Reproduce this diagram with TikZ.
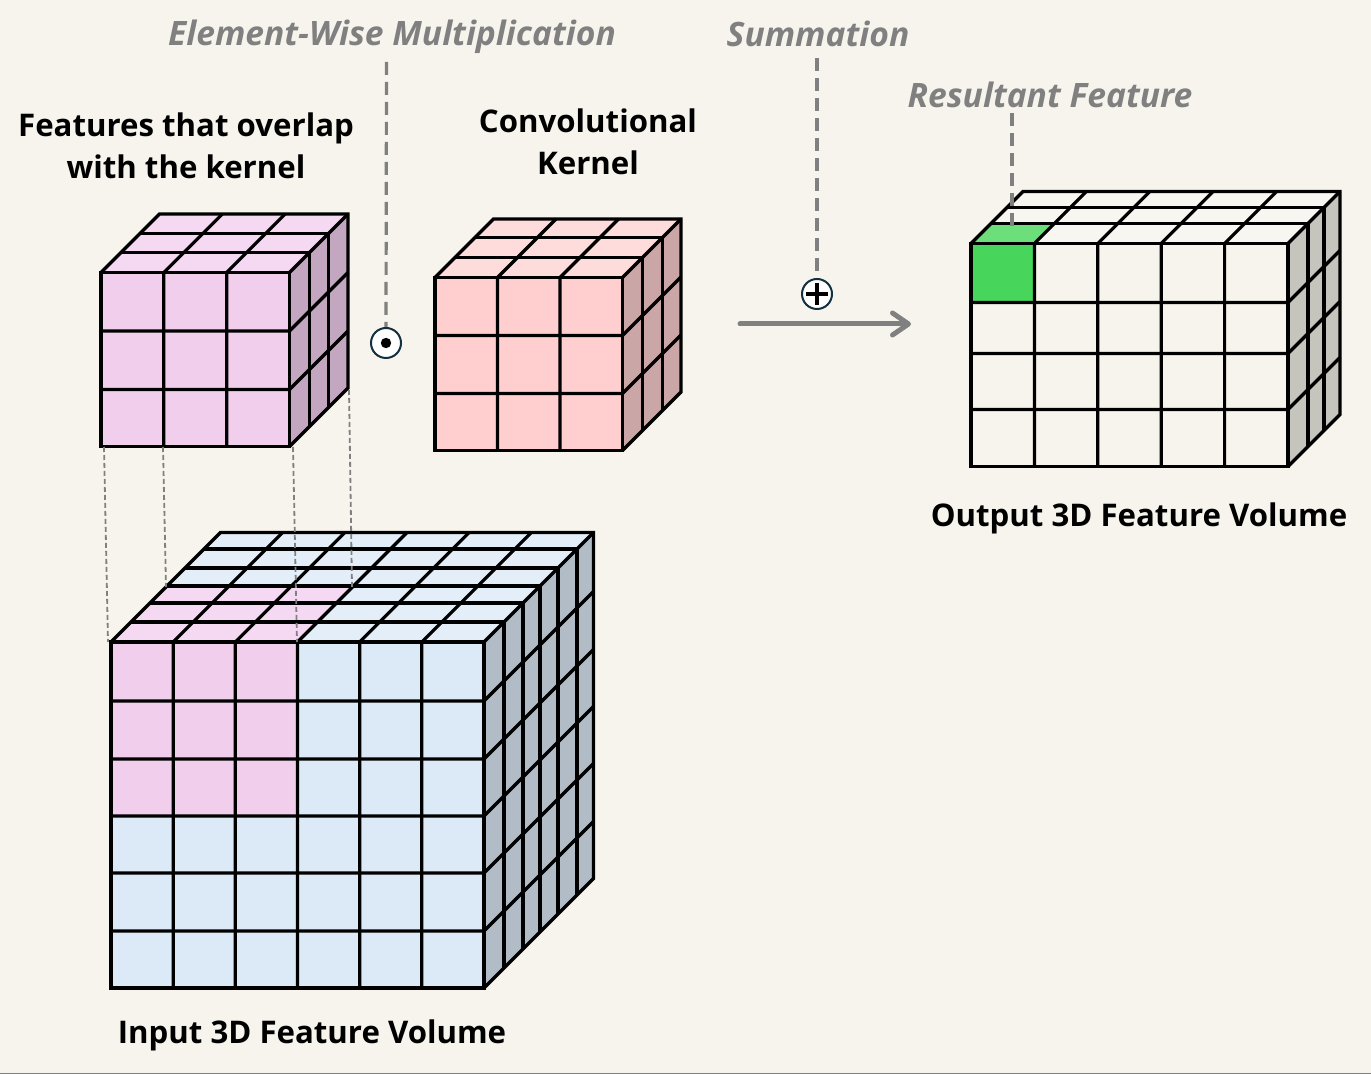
\documentclass[tikz,border=0pt]{standalone}
\usepackage{fontspec}
\setmainfont{Open Sans}
\usetikzlibrary{arrows.meta, positioning}
\definecolor{paper}{HTML}{F6F4EC}
\definecolor{guidegray}{HTML}{808080}
\definecolor{symbolring}{HTML}{12303F}
\definecolor{pinkfront}{HTML}{F1CEEC}
\definecolor{pinktop}{HTML}{F5D9F2}
\definecolor{pinkside}{HTML}{C3A6C0}
\definecolor{kernelfront}{HTML}{FFCFD0}
\definecolor{kerneltop}{HTML}{FFDCDC}
\definecolor{kernelside}{HTML}{CBA6A6}
\definecolor{inputfront}{HTML}{DCE9F6}
\definecolor{inputtop}{HTML}{E4EEF8}
\definecolor{inputside}{HTML}{B1BCC7}
\definecolor{outputfront}{HTML}{F6F4EC}
\definecolor{outputtop}{HTML}{F8F6F0}
\definecolor{outputside}{HTML}{C6C5BD}
\definecolor{greenfront}{HTML}{47D65B}
\definecolor{greentop}{HTML}{6CDE7A}
% #1 x0, #2 x1, #3 y0, #4 y1, #5 depth, #6 colour prefix
\newcommand{\cubefaces}[6]{
  \fill[#6front] (#1,#3) rectangle (#2,#4);
  \fill[#6top] (#1,#3) -- (#2,#3) -- ++(#5,-#5) -- ++(#1-#2,0) -- cycle;
  \fill[#6side] (#2,#3) -- ++(#5,-#5) -- ++(0,#4-#3) -- (#2,#4) -- cycle;
}
% #1 x0, #2 x1, #3 y0, #4 y1, #5 depth, #6 columns, #7 inner rows, #8 inner depths
\newcommand{\cubegrid}[8]{
  \pgfmathtruncatemacro{\lastcol}{#6-1}
  \foreach \c in {1,...,\lastcol}{
    \pgfmathsetmacro{\cx}{#1+\c*(#2-#1)/#6}
    \draw[gridline] (\cx,#4) -- (\cx,#3) -- ++(#5,-#5);
  }
  \foreach \ry in {#7}
    \draw[gridline] (#1,\ry) -- (#2,\ry) -- ++(#5,-#5);
  \foreach \d in {#8}
    \draw[gridline] (#1+\d,#3-\d) -- (#2+\d,#3-\d) -- (#2+\d,#4-\d);
  \draw[gridline] (#1,#3) rectangle (#2,#4);
  \draw[gridline] (#1,#3) -- ++(#5,-#5) -- (#2+#5,#3-#5) -- (#2+#5,#4-#5) -- (#2,#4);
  \draw[gridline] (#2,#3) -- ++(#5,-#5);
}
\begin{document}
\begin{tikzpicture}[x=0.5pt, y=-0.5pt,
    gridline/.style={black, line width=1.6pt},
    guide/.style={guidegray, line width=1.6pt, dash pattern=on 6.5pt off 3.5pt},
    overlapguide/.style={guidegray, line width=0.9pt, dash pattern=on 2.5pt off 1.5pt},
    headtext/.style={font=\fontsize{15.6}{21}\selectfont\bfseries, align=center, inner sep=0pt},
    notetext/.style={font=\fontsize{16.8}{21}\selectfont\bfseries\itshape, text=guidegray, inner sep=0pt},
    opsymbol/.style={circle, draw=symbolring, fill=white, line width=1pt, minimum size=15pt, inner sep=0pt}]
\useasboundingbox (0,0) rectangle (1371,1074);
\fill[paper] (0,0) rectangle (1371,1074);
\draw[guidegray, line width=0.5pt] (0,1073.5) -- (1371,1073.5);

% overlap cube, kernel, input volume
\cubefaces{101}{289.5}{272.5}{446.5}{58.5}{pink}
\cubegrid{101}{289.5}{272.5}{446.5}{58.5}{3}{331,389.5}{20,39}
\cubefaces{435}{622.5}{277.5}{450.5}{58.5}{kernel}
\cubegrid{435}{622.5}{277.5}{450.5}{58.5}{3}{335.5,393.5}{20,40}
\cubefaces{111}{484}{642}{988}{109.5}{input}
\fill[pinkfront] (111,642) rectangle (297,816);
\fill[pinktop] (111,642) -- (297,642) -- (353,586) -- (167,586) -- cycle;
\cubegrid{111}{484}{642}{988}{109.5}{6}{701,759,816,873,931}{20,39,56,74,93}

% output volume
\cubefaces{971}{1288}{243.5}{466.5}{52}{output}
\fill[greenfront] (971,243.5) rectangle (1034,302.5);
\fill[greentop] (971,243.5) -- (1034,243.5) -- (1054,223.5) -- (991,223.5) -- cycle;
\cubegrid{971}{1288}{243.5}{466.5}{52}{5}{302.5,353.5,409.5}{20,36}

% overlap guides
\coordinate (cubeA) at (104,447);
\coordinate (cubeB) at (163,447);
\coordinate (cubeC) at (293,447);
\coordinate (cubeD) at (349,390);
\coordinate (volA) at (108,642);
\coordinate (volB) at (166,587);
\coordinate (volC) at (297,642);
\coordinate (volD) at (352,587);
\draw[overlapguide] (cubeA) -- (volA);
\draw[overlapguide] (cubeB) -- (volB);
\draw[overlapguide] (cubeC) -- (volC);
\draw[overlapguide] (cubeD) -- (volD);

% labels
\node[headtext] (overlaplabel) at (186,146) {Features that overlap\\with the kernel};
\node[headtext] (kernellabel) at (588,142) {Convolutional\\Kernel};
\node[headtext] (outputlabel) at (1139,518) {Output 3D Feature Volume};
\node[headtext] (inputlabel) at (312,1035) {Input 3D Feature Volume};
\node[notetext] (elemlabel) at (392,37) {Element-Wise Multiplication};
\node[notetext] (sumlabel) at (818,34) {Summation};
\node[notetext] (resultlabel) at (1050,95) {Resultant Feature};

% operators
\node[opsymbol] (odot) at (386,343) {};
\node[opsymbol] (oplus) at (817,294) {};
\fill[black] (odot) circle (2.6pt);
\draw[black, line width=2pt] ([xshift=-5.5pt]oplus.center) -- ([xshift=5.5pt]oplus.center);
\draw[black, line width=2pt] ([yshift=-5.5pt]oplus.center) -- ([yshift=5.5pt]oplus.center);
\coordinate (elemstart) at (386.5,62);
\coordinate (sumstart) at (817,58);
\coordinate (resultstart) at (1012,113);
\coordinate (resultend) at (1012,232);
\draw[guide] (elemstart) -- (odot.north);
\draw[guide] (sumstart) -- (oplus.north);
\draw[guide] (resultstart) -- (resultend);

% summation arrow
\coordinate (arrowstart) at (740,324);
\coordinate (arrowend) at (911,324);
\draw[guidegray, line width=2.5pt, line cap=round, -{Straight Barb[length=8pt, width=11pt, round]}] (arrowstart) -- (arrowend);
\end{tikzpicture}
\end{document}
